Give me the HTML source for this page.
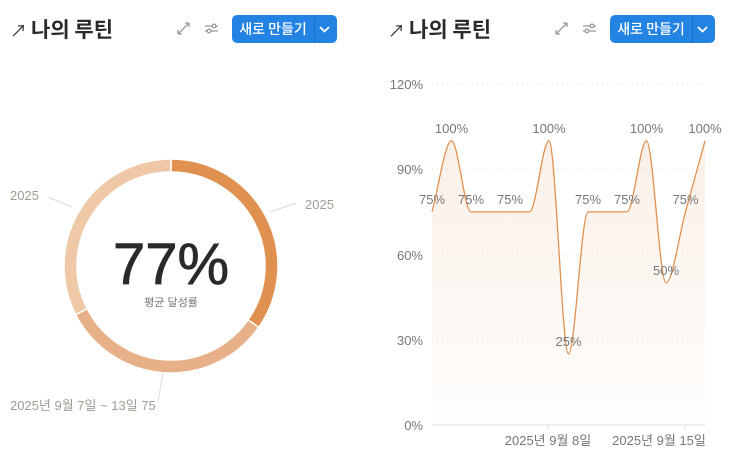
<!DOCTYPE html>
<html><head><meta charset="utf-8"><style>
body{margin:0;width:754px;height:473px;background:#fff;overflow:hidden;font-family:"Liberation Sans","Noto Sans CJK KR",sans-serif;position:relative}
.t{position:absolute;top:15px;font-size:21px;font-weight:bold;color:#2a2a2a;font-family:"Noto Sans CJK KR",sans-serif;line-height:28px}
.t span{font-weight:normal;font-size:17px;margin-right:4px}
.btn{position:absolute;top:15px;height:28px;width:105px;background:#2383e2;border-radius:5px;color:#fff;font-size:14px;font-family:"Noto Sans CJK KR",sans-serif;font-weight:500}
.btn .l{position:absolute;left:0;width:82px;line-height:28px;text-align:center}
.btn .d{position:absolute;left:82px;top:0;width:1px;height:28px;background:#1b6fc4}
svg{position:absolute;left:0;top:0}
</style></head><body>
<div class="t" style="left:10px"><span>↗</span>나의 루틴</div>
<div class="t" style="left:388px"><span>↗</span>나의 루틴</div>
<div class="btn" style="left:232px"><div class="l">새로 만들기</div><div class="d"></div></div>
<div class="btn" style="left:610px"><div class="l">새로 만들기</div><div class="d"></div></div>
<svg width="754" height="473" id="s">
<g stroke="#999" stroke-width="1.3" fill="none">
<path d="M178 34l11-11M189 23h-4M189 23v4M178 34h4M178 34v-4"/>
<path d="M205 26h13M205 31h13"/><circle cx="214" cy="26" r="1.8" fill="#fff"/><circle cx="209" cy="31" r="1.8" fill="#fff"/>
<path d="M556 34l11-11M567 23h-4M567 23v4M556 34h4M556 34v-4"/>
<path d="M583 26h13M583 31h13"/><circle cx="592" cy="26" r="1.8" fill="#fff"/><circle cx="587" cy="31" r="1.8" fill="#fff"/>
</g>
<g stroke="#fff" stroke-width="1.8" fill="none"><path d="M320 27l4.5 4.5 4.5-4.5M698 27l4.5 4.5 4.5-4.5"/></g>
<defs><linearGradient id="g" x1="0" y1="0" x2="0" y2="1"><stop offset="0" stop-color="#f6e3d3" stop-opacity="0.55"/><stop offset="1" stop-color="#f6e3d3" stop-opacity="0.05"/></linearGradient></defs>
<g id="donut"></g>
<g stroke="#ddd" stroke-width="1"><path d="M270 212L296 203"/><path d="M72 207L48 197"/><path d="M163 373L158 402"/></g>
<g font-size="13" fill="#a09a94"><text x="305" y="209">2025</text><text x="10" y="200">2025</text><text x="10" y="410">2025년 9월 7일 ~ 13일 75</text></g>
<text x="171" y="284" text-anchor="middle" font-size="58" fill="#2a2a2a" font-family="Liberation Sans" stroke="#2a2a2a" stroke-width="0.8">77%</text>
<text x="171" y="306" text-anchor="middle" font-size="11" fill="#777">평균 달성률</text>
<g stroke="#ddd" stroke-dasharray="1,4"><path d="M432 84H705M432 169H705M432 255H705M432 340H705"/></g>
<path d="M432 425H705" stroke="#ddd"/>
<path d="M548 425v4M685 425v4" stroke="#ddd"/>
<g font-size="13" fill="#777" text-anchor="end"><text x="423" y="89">120%</text><text x="423" y="174">90%</text><text x="423" y="260">60%</text><text x="423" y="345">30%</text><text x="423" y="430">0%</text></g>
<g font-size="13" fill="#777" text-anchor="middle"><text x="548" y="445">2025년 9월 8일</text><text x="659" y="445">2025년 9월 15일</text></g>
<path id="area" fill="url(#g)"/><path id="line" fill="none" stroke="#e0914f" stroke-width="1.3"/>
<g font-size="13" fill="#777" text-anchor="middle" id="lb"></g>
</svg>
<script>
var s=document.getElementById('s'),NS='http://www.w3.org/2000/svg';
function arc(a0,a1,c){var cx=171,cy=266,R=107,r=94;function p(a,rr){a=(a-90)*Math.PI/180;return[cx+rr*Math.cos(a),cy+rr*Math.sin(a)]}
var l=a1-a0>180?1:0,A=p(a0,R),B=p(a1,R),C=p(a1,r),D=p(a0,r);
var e=document.createElementNS(NS,'path');e.setAttribute('d','M'+A+'A'+R+' '+R+' 0 '+l+' 1 '+B+'L'+C+'A'+r+' '+r+' 0 '+l+' 0 '+D+'Z');e.setAttribute('fill',c);e.setAttribute('stroke','#fff');e.setAttribute('stroke-width','1.5');document.getElementById('donut').appendChild(e)}
arc(0,125,'#e0914f');arc(125,243,'#e8b088');arc(243,360,'#efc8a8');
var v=[75,100,75,75,75,75,100,25,75,75,75,100,50,75,100],X=[],Y=[];
for(var i=0;i<v.length;i++){X.push(432+i*19.5);Y.push(425-v[i]*2.842)}
var n=v.length,m=[],d=[];for(i=0;i<n-1;i++)d.push((Y[i+1]-Y[i])/(X[i+1]-X[i]));
for(i=0;i<n;i++){if(i==0)m.push(d[0]);else if(i==n-1)m.push(d[n-2]);else{var a=d[i-1],b=d[i];m.push(a*b<=0?0:(Math.sign(a))*Math.min(Math.abs(a),Math.abs(b),0.5*Math.abs(a+b)))}}
var p='M'+X[0]+' '+Y[0];for(i=0;i<n-1;i++){var h=(X[i+1]-X[i])/3;p+='C'+(X[i]+h)+' '+(Y[i]+m[i]*h)+' '+(X[i+1]-h)+' '+(Y[i+1]-m[i+1]*h)+' '+X[i+1]+' '+Y[i+1]}
document.getElementById('line').setAttribute('d',p);document.getElementById('area').setAttribute('d',p+'L705 425L432 425Z');
var show=[0,1,2,4,6,7,8,10,11,12,13,14],lb=document.getElementById('lb');
show.forEach(function(i){var t=document.createElementNS(NS,'text');var y=Y[i]-8;t.setAttribute('x',i==0?432:(i==14?705:X[i]));t.setAttribute('y',y);t.textContent=v[i]+'%';lb.appendChild(t)});
</script>
</body></html>
